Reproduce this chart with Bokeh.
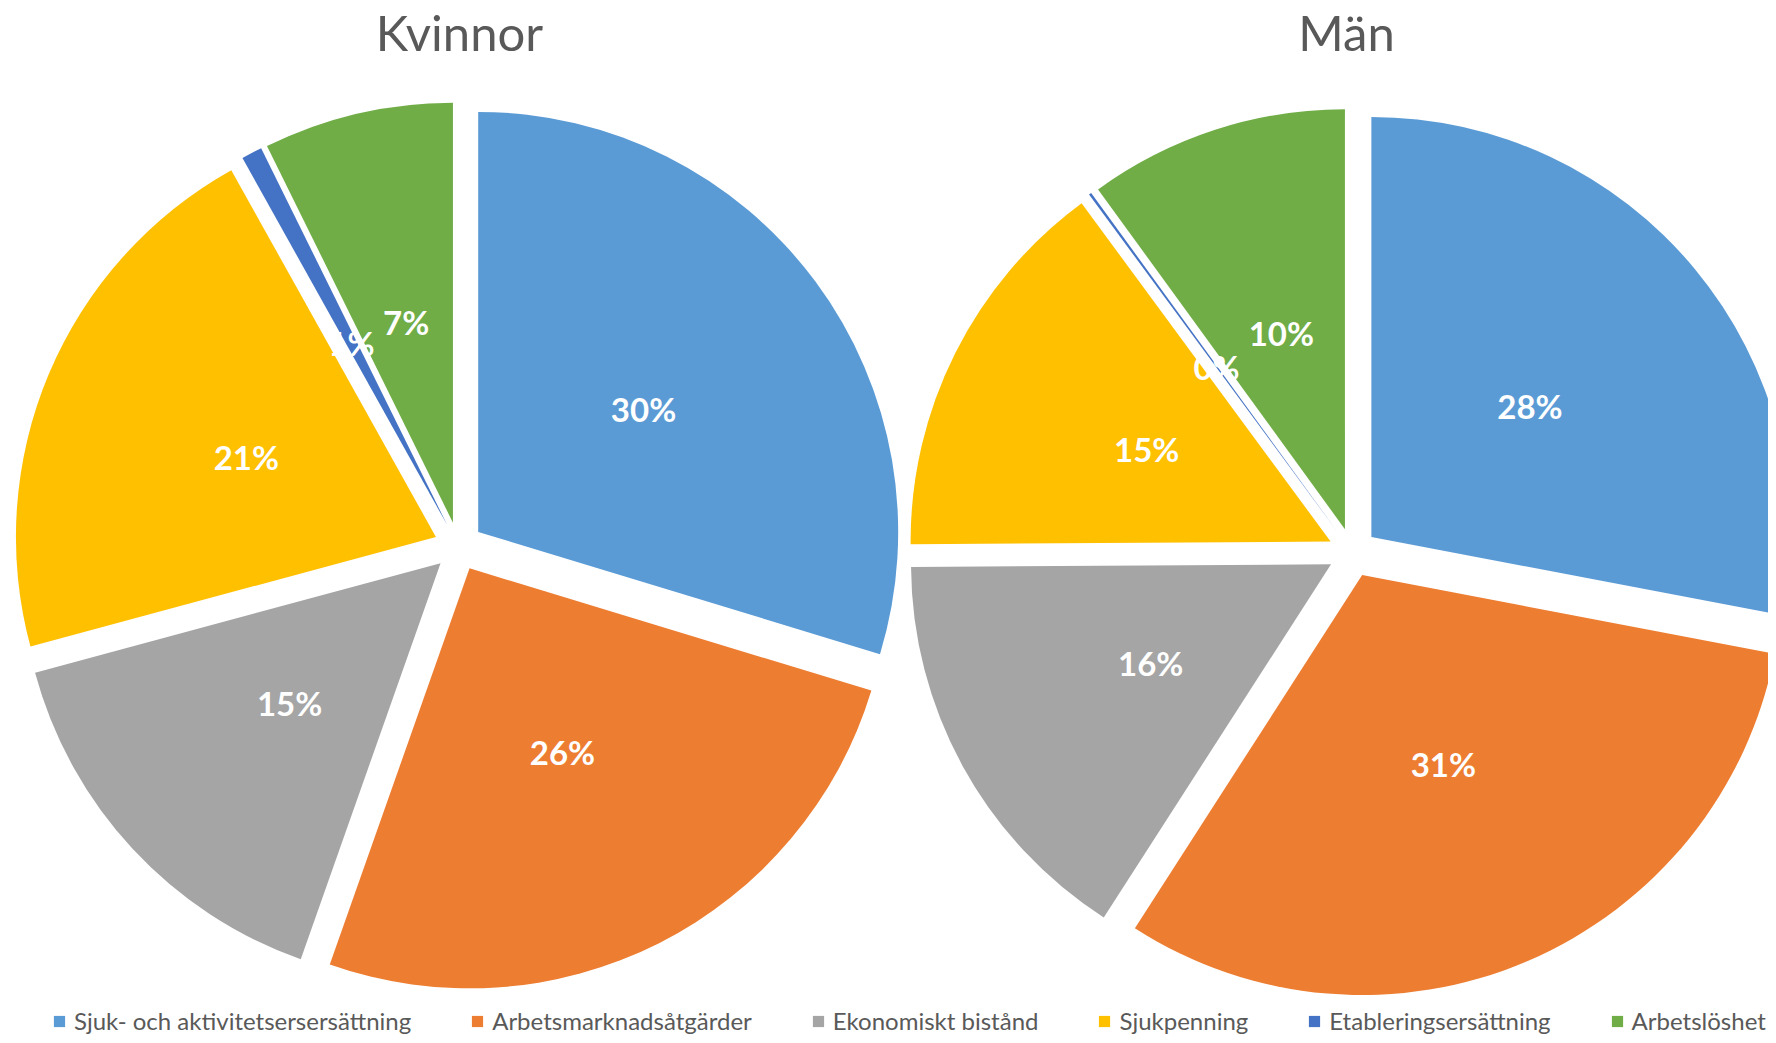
import numpy as np
from bokeh.plotting import figure
from bokeh.models import ColumnDataSource, Range1d, Legend, LegendItem
from bokeh.core.properties import value
from bokeh.embed import file_html
from bokeh.resources import INLINE

# ---- data ----
categories = ["Sjuk- och aktivitetsersersättning", "Arbetsmarknadsåtgärder",
              "Ekonomiskt bistånd", "Sjukpenning", "Etableringsersättning", "Arbetslöshet"]
kvinnor = [29.7, 25.7, 15.4, 21.1, 0.8, 7.3]
man = [28.0, 31.1, 15.8, 15.0, 0.1, 10.0]
titles = ["Kvinnor", "Män"]
colors = ["#5B9BD5", "#ED7D31", "#A5A5A5", "#FFC000", "#4472C4", "#70AD47"]

# ---- layout ----
W, H = 1768, 1035
R = 420
EXPLODE = 24.5
centers = [(458, 489), (1352, 483)]
title_pos = [(459, 1004), (1346, 1004)]

p = figure(width=W, height=H, x_range=Range1d(0, W), y_range=Range1d(0, H),
           output_backend="svg", toolbar_location=None,
           x_axis_location=None, y_axis_location=None, min_border=0,
           outline_line_color=None, tools="")
p.grid.visible = False


def pie_source(vals, cx, cy):
    v = np.array(vals, float)
    frac = v / v.sum()
    cum = np.concatenate([[0.0], np.cumsum(frac)])
    start = np.pi / 2 - 2 * np.pi * cum[:-1]
    end = np.pi / 2 - 2 * np.pi * cum[1:]
    mid = (start + end) / 2
    x = cx + EXPLODE * np.cos(mid)
    y = cy + EXPLODE * np.sin(mid)
    lx = x + 0.49 * R * np.cos(mid)
    ly = y + 0.49 * R * np.sin(mid)
    labels = [f"{int(np.floor(f * 100 + 0.5))}%" for f in frac]
    return ColumnDataSource(dict(x=x, y=y, start=start, end=end, lx=lx, ly=ly,
                                 label=labels, color=colors, cat=categories))


renderers = []
for vals, (cx, cy) in zip([kvinnor, man], centers):
    src = pie_source(vals, cx, cy)
    r = p.wedge(x="x", y="y", radius=R, start_angle="start", end_angle="end",
                direction="clock", fill_color="color", line_color=None, source=src)
    renderers.append(r)
    p.text(x="lx", y="ly", text="label", source=src, text_color="white",
           text_font=value("Lato"), text_font_style="bold", text_font_size="33px",
           text_align="center", text_baseline="middle")

p.text(x=[t[0] for t in title_pos], y=[t[1] for t in title_pos], text=titles,
       text_color="#595959", text_font=value("Lato"), text_font_size="49px",
       text_align="center", text_baseline="alphabetic")

items = [LegendItem(label=c, renderers=[renderers[0]], index=i) for i, c in enumerate(categories)]
legend = Legend(items=items, orientation="horizontal", location=(52, 0),
                glyph_width=14, glyph_height=14, label_standoff=8, spacing=59,
                label_text_font="Lato", label_text_font_size="24px",
                label_text_color="#595959", padding=0, margin=0,
                border_line_color=None, background_fill_alpha=0)
p.add_layout(legend, "center")

open("out.html", "w").write(file_html(p, INLINE))
